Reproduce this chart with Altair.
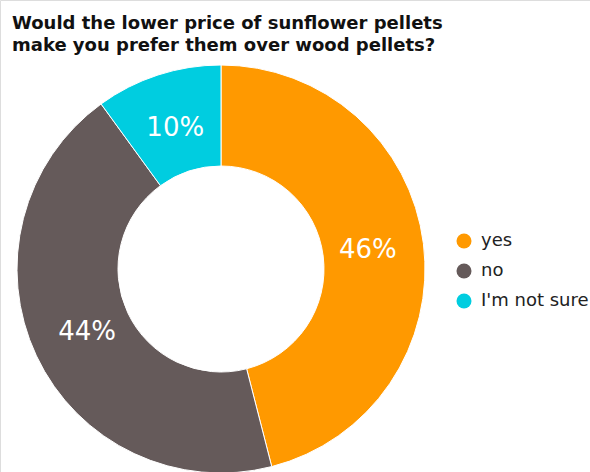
import altair as alt
import pandas as pd

answers = ["yes", "no", "I'm not sure"]
shares = [46, 44, 10]
labels = ["46%", "44%", "10%"]
colors = ["#FF9900", "#655A5A", "#00CDE0"]
title_lines = ["Would the lower price of sunflower pellets",
               "make you prefer them over wood pellets?"]

df = pd.DataFrame({
    "answer": answers,
    "share": shares,
    "label": labels,
    "idx": list(range(len(answers))),
})

CX, CY = 221, 269

base = alt.Chart(df).encode(
    theta=alt.Theta("share:Q", stack=True),
    order=alt.Order("idx:Q"),
    x=alt.value(CX),
    y=alt.value(CY),
)

arcs = base.mark_arc(innerRadius=103, outerRadius=204, stroke="white", strokeWidth=1).encode(
    color=alt.Color(
        "answer:N",
        scale=alt.Scale(domain=answers, range=colors),
        sort=answers,
        legend=alt.Legend(
            title=None,
            orient="none",
            legendX=455,
            legendY=232,
            symbolType="circle",
            symbolSize=225,
            symbolStrokeWidth=0,
            labelFontSize=18,
            labelFont="DejaVu Sans",
            labelColor="#222222",
            labelOffset=8,
            rowPadding=12,
            padding=0,
        ),
    )
)

text = base.mark_text(radius=148, fontSize=26, font="DejaVu Sans", color="white").encode(
    text="label:N"
)

title = alt.Chart(pd.DataFrame({"t": [title_lines]})).mark_text(
    align="left", baseline="alphabetic", fontSize=18, fontWeight="bold",
    font="DejaVu Sans", color="#111111", lineHeight=22
).encode(
    x=alt.value(12), y=alt.value(29), text="t"
)

chart = alt.layer(arcs, text, title).properties(
    width=590, height=472,
    autosize=alt.AutoSizeParams(type="none"),
    padding=0,
).configure_view(stroke=None).configure(background="white")

chart.save("out.html", embed_options={"renderer": "svg", "actions": False})
